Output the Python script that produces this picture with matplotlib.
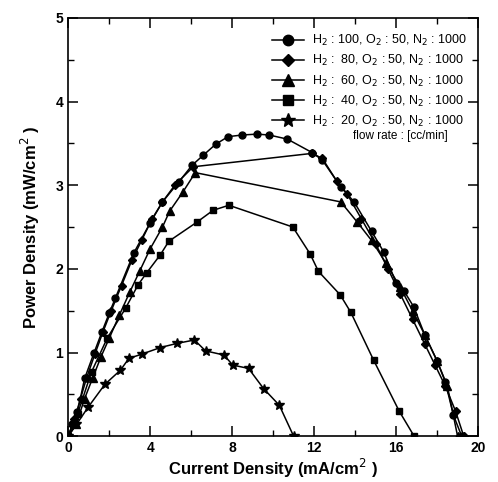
import numpy as np
import matplotlib
matplotlib.use('Agg')
import matplotlib.pyplot as plt
from matplotlib.ticker import MultipleLocator

plt.rcParams['font.family'] = ['Liberation Sans', 'DejaVu Sans']

# H2 : 100 (circle)
x100 = [0, 0.2, 0.45, 0.8, 1.25, 1.65, 2.0, 2.3, 3.2, 4.0, 4.6, 5.4, 6.05, 6.6, 7.2, 7.8,
        8.5, 9.2, 9.8, 10.7, 11.9, 12.4, 13.3, 13.95, 14.8, 15.4, 16.0, 16.4, 16.85, 17.4,
        18.0, 18.4, 18.8, 19.2]
y100 = [0, 0.14, 0.29, 0.69, 0.99, 1.25, 1.47, 1.65, 2.19, 2.55, 2.80, 3.04, 3.24, 3.36, 3.49, 3.58,
        3.60, 3.61, 3.60, 3.55, 3.39, 3.30, 2.98, 2.80, 2.45, 2.20, 1.83, 1.73, 1.55, 1.21,
        0.90, 0.65, 0.25, 0]

# H2 : 80 (diamond)
x80 = [0, 0.3, 0.6, 0.9, 1.3, 1.7, 2.1, 2.6, 3.1, 3.6, 4.1, 4.6, 5.2, 6.1,
       11.9, 12.4, 13.1, 13.6, 14.3, 15.0, 15.6, 16.2, 16.8, 17.4, 17.9, 18.4, 18.9, 19.3]
y80 = [0, 0.2, 0.45, 0.7, 0.98, 1.25, 1.5, 1.8, 2.1, 2.35, 2.6, 2.8, 3.0, 3.22,
       3.38, 3.32, 3.05, 2.9, 2.6, 2.3, 2.0, 1.7, 1.4, 1.1, 0.85, 0.6, 0.3, 0]

# H2 : 60 (triangle)
x60 = [0, 0.4, 0.8, 1.2, 1.6, 2.0, 2.5, 3.0, 3.5, 4.0, 4.6, 4.95, 5.6, 6.2,
       13.3, 14.1, 14.8, 15.5, 16.2, 16.8, 17.4, 18.0, 18.5, 19.0]
y60 = [0, 0.15, 0.45, 0.7, 0.95, 1.17, 1.45, 1.72, 1.98, 2.24, 2.5, 2.69, 2.92, 3.15,
       2.80, 2.56, 2.34, 2.07, 1.78, 1.5, 1.21, 0.9, 0.6, 0]

# H2 : 40 (square)
x40 = [0, 0.46, 1.14, 1.9, 2.8, 3.41, 3.82, 4.5, 4.91, 6.29, 7.07, 7.84,
       10.96, 11.8, 12.21, 13.27, 13.79, 14.9, 16.15, 16.88]
y40 = [0, 0.27, 0.77, 1.17, 1.53, 1.81, 1.95, 2.17, 2.33, 2.56, 2.70, 2.76,
       2.50, 2.18, 1.97, 1.69, 1.48, 0.91, 0.30, 0]

# H2 : 20 (star)
x20 = [0, 0.4, 0.98, 1.79, 2.55, 2.96, 3.58, 4.5, 5.32, 6.16, 6.7, 7.6, 8.03, 8.8,
       9.53, 10.3, 11.0]
y20 = [0, 0.14, 0.35, 0.62, 0.79, 0.93, 0.98, 1.06, 1.11, 1.15, 1.02, 0.97, 0.85, 0.81,
       0.57, 0.37, 0]

labels = ['H$_2$ : 100, O$_2$ : 50, N$_2$ : 1000',
          'H$_2$ :  80, O$_2$ : 50, N$_2$ : 1000',
          'H$_2$ :  60, O$_2$ : 50, N$_2$ : 1000',
          'H$_2$ :  40, O$_2$ : 50, N$_2$ : 1000',
          'H$_2$ :  20, O$_2$ : 50, N$_2$ : 1000']

fig = plt.figure(figsize=(4.98, 4.82), dpi=100)
ax = fig.add_axes([0.137, 0.095, 0.823, 0.868])

series = [(x100, y100, 'o', 5), (x80, y80, 'D', 4.2), (x60, y60, '^', 5.5),
          (x40, y40, 's', 4.5), (x20, y20, '*', 7)]
for (xs, ys, m, ms), lab in zip(series, labels):
    ax.plot(xs, ys, color='black', lw=1.1, marker=m, ms=ms, mfc='black', mec='black', label=lab)

ax.set_xlim(0, 20)
ax.set_ylim(0, 5)
ax.xaxis.set_major_locator(MultipleLocator(4))
ax.xaxis.set_minor_locator(MultipleLocator(2))
ax.yaxis.set_major_locator(MultipleLocator(1))
ax.yaxis.set_minor_locator(MultipleLocator(0.5))
ax.tick_params(which='both', direction='in', top=True, right=True)
ax.tick_params(which='major', length=7, width=1.1, labelsize=10)
ax.tick_params(which='minor', length=4, width=1)
for lbl in ax.get_xticklabels() + ax.get_yticklabels():
    lbl.set_fontweight('bold')
for s in ax.spines.values():
    s.set_linewidth(1.2)

ax.set_xlabel('Current Density (mA/cm$^2$ )', fontsize=12, fontweight='bold', labelpad=1)
ax.set_ylabel('Power Density (mW/cm$^2$ )', fontsize=12, fontweight='bold', labelpad=10)

leg = ax.legend(loc='upper right', bbox_to_anchor=(1.0, 0.99), frameon=False, fontsize=9,
                handlelength=2.6, markerscale=1.5, labelspacing=0.4, handletextpad=0.6)
ax.text(0.81, 0.71, 'flow rate : [cc/min]', transform=ax.transAxes, fontsize=8.5, ha='center')

fig.savefig('out.png', dpi=100)
